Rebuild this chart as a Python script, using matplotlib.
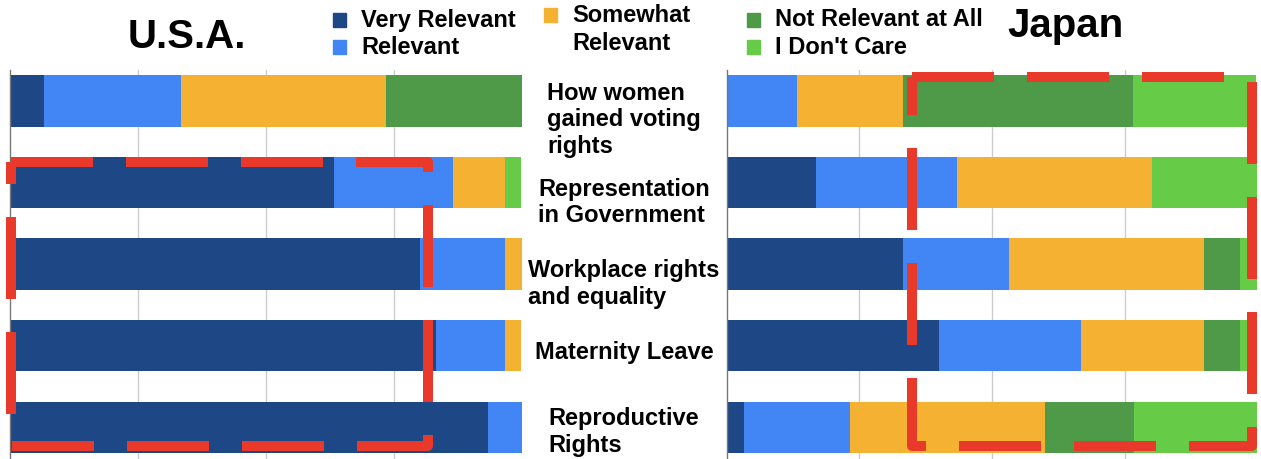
import matplotlib
matplotlib.use("Agg")
import matplotlib.pyplot as plt
from matplotlib.patches import Rectangle
from matplotlib import transforms

plt.rcParams['font.family'] = ['Liberation Sans', 'DejaVu Sans']
plt.rcParams['font.weight'] = 'bold'

# donnees (pourcentages)
categories = ["How women\ngained voting\nrights", "Representation\nin Government",
              "Workplace rights\nand equality", "Maternity Leave", "Reproductive\nRights"]
responses = ["Very Relevant", "Relevant", "Somewhat\nRelevant", "Not Relevant at All", "I Don't Care"]
colors = ["#1e4786", "#4285f4", "#f4b132", "#4e9a49", "#66cc48"]

usa_very = [6.7, 63.3, 80.0, 83.3, 93.3]
usa_rel = [26.7, 23.3, 16.7, 13.3, 6.7]
usa_some = [40.0, 10.0, 3.3, 3.3, 0]
usa_not = [26.7, 0, 0, 0, 0]
usa_dc = [0, 3.3, 0, 0, 0]

japan_very = [0, 16.7, 33.3, 40.0, 3.3]
japan_rel = [13.3, 26.7, 20.0, 26.7, 20.0]
japan_some = [20.0, 36.7, 36.7, 23.3, 36.7]
japan_not = [43.3, 0, 6.7, 6.7, 16.7]
japan_dc = [23.3, 20.0, 3.3, 3.3, 23.3]

W, H = 1261, 459
fig = plt.figure(figsize=(W / 100, H / 100), dpi=100)
ax_us = fig.add_axes([10 / W, 0, 512 / W, 389 / H])
ax_jp = fig.add_axes([727 / W, 0, 530 / W, 389 / H])

rows = list(range(len(categories)))


def draw(ax, series):
    left = [0] * len(rows)
    for vals, col in zip(series, colors):
        ax.barh(rows, vals, left=left, height=0.63, color=col, zorder=2)
        left = [a + b for a, b in zip(left, vals)]
    ax.set_xlim(0, 100)
    ax.set_ylim(4.39, -0.38)
    ax.set_xticks([25, 50, 75])
    ax.grid(axis='x', color='#cccccc', lw=1, zorder=0)
    ax.tick_params(length=0, labelbottom=False, labelleft=False)
    ax.set_yticks([])
    for s in ['top', 'right', 'bottom']:
        ax.spines[s].set_visible(False)
    ax.spines['left'].set_color('#777777')
    ax.spines['left'].set_linewidth(1)


draw(ax_us, [usa_very, usa_rel, usa_some, usa_not, usa_dc])
draw(ax_jp, [japan_very, japan_rel, japan_some, japan_not, japan_dc])

# titres
fig.text(187 / W, 1 - 48 / H, "U.S.A.", ha='center', va='baseline', fontsize=29, weight='bold')
fig.text(1065 / W, 1 - 37 / H, "Japan", ha='center', va='baseline', fontsize=29, weight='bold')

# etiquettes au centre
trans = transforms.blended_transform_factory(fig.transFigure, ax_us.transData)
decal = [0.23, 0.245, 0.245, 0.086, 0.06]
for r, cat, d in zip(rows, categories, decal):
    fig.text(624 / W, r + d, cat, transform=trans, ha='center', va='center',
             multialignment='left', fontsize=17, weight='bold', linespacing=1.2)

# legende faite a la main
leg_pos = [(339, 20), (339, 47), (550, 15), (753, 20), (753, 47)]
for (px, py), lab, col in zip(leg_pos, responses, colors):
    fig.add_artist(Rectangle(((px - 6.5) / W, 1 - (py + 6.5) / H), 13 / W, 13 / H,
                             transform=fig.transFigure, color=col))
    if "\n" in lab:
        fig.text((px + 22) / W, 1 - (py - 11) / H, lab, ha='left', va='top',
                 fontsize=17, weight='bold', linespacing=1.25)
    else:
        fig.text((px + 22) / W, 1 - py / H, lab, ha='left', va='center',
                 fontsize=17, weight='bold')

# cadres rouges en pointilles
rouge = '#e8392b'
ax_us.add_patch(Rectangle((0.2, 0.749), 81.4, 4.233 - 0.749, fill=False, ec=rouge, lw=7.2,
                          ls=(0, (8.2, 3.3)), joinstyle='round', clip_on=False, zorder=5))
ax_jp.add_patch(Rectangle((34.9, -0.294), 99.1 - 34.9, 4.233 + 0.294, fill=False, ec=rouge, lw=7.2,
                          ls=(0, (8.2, 3.3)), joinstyle='round', clip_on=False, zorder=5))

fig.savefig("out.png", dpi=100)
